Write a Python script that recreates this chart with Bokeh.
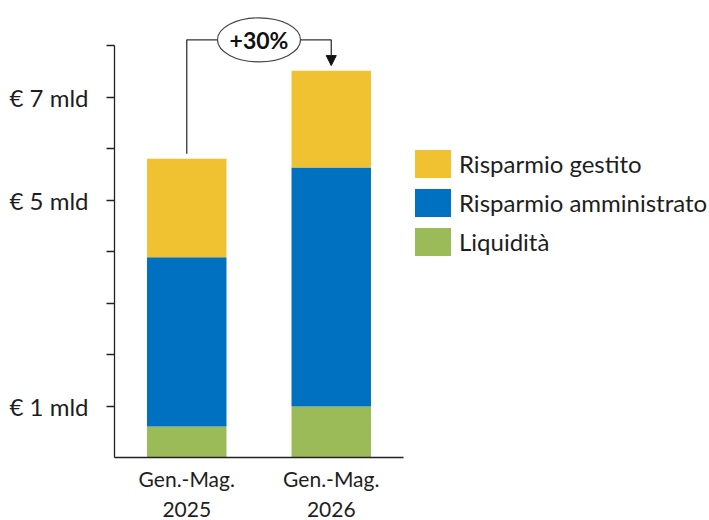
from bokeh.plotting import figure
from bokeh.models import (ColumnDataSource, FactorRange, Range1d, FixedTicker,
                          Legend, LegendItem, Arrow, NormalHead)
from bokeh.core.properties import value
from bokeh.embed import file_html
from bokeh.resources import INLINE

# ---- data ----
categories = ["Gen.-Mag.\n2025", "Gen.-Mag.\n2026"]
liquidita = [0.60, 0.99]
amministrato = [3.29, 4.64]
gestito = [1.91, 1.88]
series_keys = ["liquidita", "amministrato", "gestito"]
series_names = ["Liquidità", "Risparmio amministrato", "Risparmio gestito"]
series_colors = ["#9BBB59", "#0070C0", "#F0C232"]
y_ticks = [1, 2, 3, 4, 5, 6, 7, 8]
y_tick_labels = {1: "€ 1 mld", 5: "€ 5 mld", 7: "€ 7 mld"}
growth_label = "+30%"

FONT = "Lato"
TXT = "#1e1e1e"

src = ColumnDataSource(dict(cat=categories, liquidita=liquidita,
                            amministrato=amministrato, gestito=gestito))

p = figure(x_range=FactorRange(*categories), y_range=Range1d(0, 8.68),
           frame_width=289, frame_height=447,
           min_border_left=114, min_border_right=0,
           min_border_top=10, min_border_bottom=60,
           output_backend="svg", toolbar_location=None)
p.xgrid.grid_line_color = None
p.ygrid.grid_line_color = None
p.outline_line_color = None
p.background_fill_color = "white"

rs = p.vbar_stack(series_keys, x="cat", width=0.55, color=series_colors,
                  line_color=None, source=src)

# growth annotation
totals = [a + b + c for a, b, c in zip(liquidita, amministrato, gestito)]
xc = [i + 0.5 for i in range(len(categories))]
yb = max(totals) + 0.6
p.line(x=[xc[0], xc[0], xc[1]], y=[totals[0] + 0.1, yb, yb],
       line_color="#333333", line_width=1.3)
p.add_layout(Arrow(x_start=xc[1], y_start=yb, x_end=xc[1], y_end=totals[1] + 0.1,
                   line_color="#333333", line_width=1.3,
                   end=NormalHead(size=10, fill_color="#111111", line_color="#111111")))
xm = sum(xc) / 2
p.ellipse(x=[xm], y=[yb], width=83, height=44, width_units="screen",
          height_units="screen", fill_color="white", line_color="#444444",
          line_width=1.2)
p.text(x=[xm], y=[yb], text=[growth_label], text_align="center",
       text_baseline="middle", text_font=value(FONT), text_font_style="bold",
       text_font_size="23px", text_color="#111111")

# axes
ya = p.yaxis[0]
ya.ticker = FixedTicker(ticks=y_ticks)
ya.major_label_overrides = {t: y_tick_labels.get(t, "") for t in y_ticks}
ya.bounds = (0, 8)
ya.minor_tick_line_color = None
ya.major_tick_out = 8
ya.major_tick_in = 0
ya.major_label_standoff = 18
ya.axis_line_color = "#222222"
ya.axis_line_width = 1.3
ya.major_tick_line_color = "#222222"
ya.major_tick_line_width = 1.3
ya.major_label_text_font = FONT
ya.major_label_text_font_size = "24px"
ya.major_label_text_color = TXT

xa = p.xaxis[0]
xa.major_tick_line_color = None
xa.minor_tick_line_color = None
xa.axis_line_color = "#222222"
xa.axis_line_width = 1.3
xa.major_label_standoff = 2
xa.major_label_text_font = FONT
xa.major_label_text_font_size = "21px"
xa.major_label_text_color = TXT

items = [LegendItem(label=series_names[i], renderers=[rs[i]]) for i in reversed(range(3))]
legend = Legend(items=items, location=(7, 198), orientation="vertical",
                glyph_width=45, glyph_height=35, spacing=4, padding=0, margin=0,
                label_standoff=4, label_text_font=FONT, label_text_font_size="24px",
                label_text_color=TXT, border_line_color=None,
                background_fill_alpha=0)
p.add_layout(legend, "right")

open("out.html", "w").write(file_html(p, INLINE))
